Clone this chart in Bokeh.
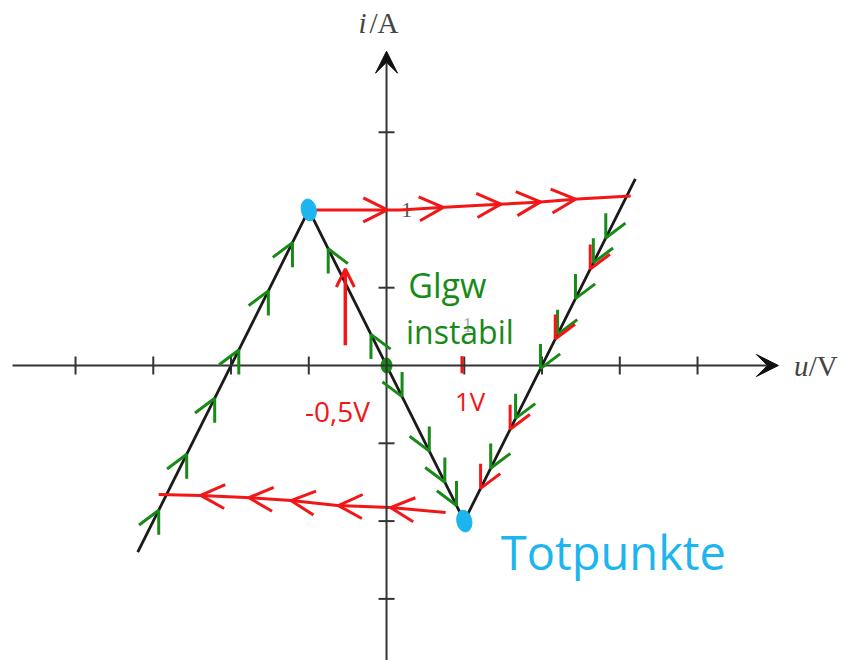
import numpy as np
from bokeh.plotting import figure
from bokeh.models import Range1d, Arrow, VeeHead, OpenHead, ColumnDataSource
from bokeh.core.properties import value
from bokeh.embed import file_html
from bokeh.resources import INLINE

# N-shaped current/voltage characteristic (piecewise linear)
char_u = [-3.2, -1.0, 1.0, 3.2]
char_i = [-1.2, 1.0, -1.0, 1.2]

# axis ticks
x_ticks = [-4, -3, -2, -1, 1, 2, 3, 4]
y_ticks = [-1.5, -1.0, -0.5, 0.5, 1.0, 1.5]

# jump from the peak to the right branch (hand-drawn, red)
top_u = [-0.95, -0.46, 0.18, 0.69, 1.21, 1.94, 2.46, 3.14]
top_i = [1.0, 1.0, 1.0, 1.015, 1.03, 1.05, 1.07, 1.09]
top_marks_u = [0.01, 0.73, 1.47, 1.98, 2.43]

# jump from the valley to the left branch (hand-drawn, red)
bot_u = [-2.93, -2.39, -1.81, -1.23, -0.63, 0.05, 0.76]
bot_i = [-0.829, -0.835, -0.848, -0.868, -0.90, -0.913, -0.945]
bot_marks_u = [0.05, -0.62, -1.23, -1.77, -2.39]

# direction marks drawn along the characteristic
left_marks_u = [-2.93, -2.57, -2.21, -1.90, -1.52, -1.21]
mid_up_marks_u = [-0.75, -0.2]
mid_down_marks_u = [0.2, 0.55, 0.75, 0.9]
right_green_u = [2.82, 2.66, 2.43, 2.20, 1.98, 1.66, 1.34]
right_red_u = [2.62, 2.17, 1.59, 1.21]

# operating points
dead_u = [char_u[1], char_u[2]]
dead_i = [char_i[1], char_i[2]]
eq_u = [0.0]
eq_i = [0.0]

RED = "#f21616"
GREEN = "#178a17"
CYAN = "#1cb5ef"
AXIS = "#333333"

U_MIN, U_MAX = -4.965, 5.916
I_MIN, I_MAX = -1.896, 2.346


def on_char(u):
    return np.interp(u, char_u, char_i)


def on_top(u):
    return np.interp(u, top_u, top_i)


def on_bot(u):
    return np.interp(u, bot_u, bot_i)


p = figure(width=846, height=660, x_range=Range1d(U_MIN, U_MAX),
           y_range=Range1d(I_MIN, I_MAX), output_backend="svg",
           toolbar_location=None, min_border=0)
p.axis.visible = False
p.grid.visible = False
p.outline_line_color = None
p.background_fill_color = "white"

# coordinate axes with arrow heads
p.add_layout(Arrow(end=VeeHead(size=22, fill_color="#111111", line_color="#111111"),
                   x_start=-4.81, y_start=0, x_end=5.04, y_end=0,
                   line_width=2, line_color=AXIS))
p.add_layout(Arrow(end=VeeHead(size=22, fill_color="#111111", line_color="#111111"),
                   x_start=0, y_start=I_MIN, x_end=0, y_end=2.02,
                   line_width=2, line_color=AXIS))
p.scatter(x=x_ticks, y=[0] * len(x_ticks), marker="dash", size=18,
          angle=np.pi / 2, line_color=AXIS, line_width=2)
p.scatter(x=[0] * len(y_ticks), y=y_ticks, marker="dash", size=16,
          line_color=AXIS, line_width=2)

p.text(x=[0.26], y=[1.0], text=["1"], text_font=value("Liberation Serif"),
       text_font_size="22px", text_color="#555555", text_align="center",
       text_baseline="middle")
p.text(x=[1.04], y=[0.26], text=["1"], text_font=value("Liberation Serif"),
       text_font_size="20px", text_color="#aaaaaa", text_align="center",
       text_baseline="middle")

# axis names
p.text(x=[-0.36], y=[2.2], text=["i"], text_font=value("Liberation Serif"),
       text_font_style="italic", text_font_size="29px", text_color="#444444",
       text_baseline="middle")
p.text(x=[-0.22], y=[2.2], text=["/A"], text_font=value("Liberation Serif"),
       text_font_size="29px", text_color="#444444", text_baseline="middle")
p.text(x=[5.24], y=[0.0], text=["u"], text_font=value("Liberation Serif"),
       text_font_style="italic", text_font_size="29px", text_color="#444444",
       text_baseline="middle")
p.text(x=[5.43], y=[0.0], text=["/V"], text_font=value("Liberation Serif"),
       text_font_size="29px", text_color="#444444", text_baseline="middle")

# characteristic
p.line(char_u, char_i, line_color="#1a1a1a", line_width=2.8)

# jump paths
p.line(top_u, top_i, line_color=RED, line_width=3)
p.line(bot_u, bot_i, line_color=RED, line_width=3)


def marks(us, ys_fn, du, color, size=22, width=3):
    us = np.asarray(us, dtype=float)
    src = ColumnDataSource(dict(xs=us - du, ys=ys_fn(us - du), xe=us, ye=ys_fn(us)))
    p.add_layout(Arrow(end=OpenHead(size=size, line_color=color, line_width=width),
                       source=src, x_start="xs", y_start="ys", x_end="xe", y_end="ye",
                       line_alpha=0))


marks(top_marks_u, on_top, 0.05, RED, size=24)
marks(bot_marks_u, on_bot, -0.05, RED, size=24)
marks(left_marks_u, on_char, 0.05, GREEN)
marks(mid_up_marks_u, on_char, -0.05, GREEN)
marks(mid_down_marks_u, on_char, 0.05, GREEN)
marks(right_green_u, on_char, -0.05, GREEN)
marks(right_red_u, on_char, -0.05, RED)

# red upward arrow beside the unstable branch
p.add_layout(Arrow(end=OpenHead(size=18, line_color=RED, line_width=3),
                   x_start=-0.53, y_start=0.13, x_end=-0.53, y_end=0.62,
                   line_color=RED, line_width=3.5))
p.segment(x0=[0.97], y0=[-0.05], x1=[0.97], y1=[0.06], line_color=RED, line_width=3)

# operating points
p.ellipse(x=eq_u, y=eq_i, width=11, height=15, width_units="screen",
          height_units="screen", fill_color=GREEN, line_color=GREEN)
p.ellipse(x=dead_u, y=dead_i, width=15, height=22, angle=0.2, width_units="screen",
          height_units="screen", fill_color=CYAN, line_color=CYAN)

# handwritten notes
p.text(x=[0.28], y=[0.52], text=["Glgw"], text_font=value("Open Sans"),
       text_font_size="34px", text_color=GREEN, text_baseline="middle")
p.text(x=[0.25], y=[0.22], text=["instabil"], text_font=value("Open Sans"),
       text_font_size="32px", text_color=GREEN, text_baseline="middle")
p.text(x=[-1.05], y=[-0.29], text=["-0,5V"], text_font=value("Open Sans"),
       text_font_size="28px", text_color=RED, text_baseline="middle")
p.text(x=[0.88], y=[-0.23], text=["1V"], text_font=value("Open Sans"),
       text_font_size="26px", text_color=RED, text_baseline="middle")
p.text(x=[1.47], y=[-1.2], text=["Totpunkte"], text_font=value("Open Sans"),
       text_font_size="47px", text_color=CYAN, text_baseline="middle")

open("out.html", "w").write(file_html(p, INLINE))
